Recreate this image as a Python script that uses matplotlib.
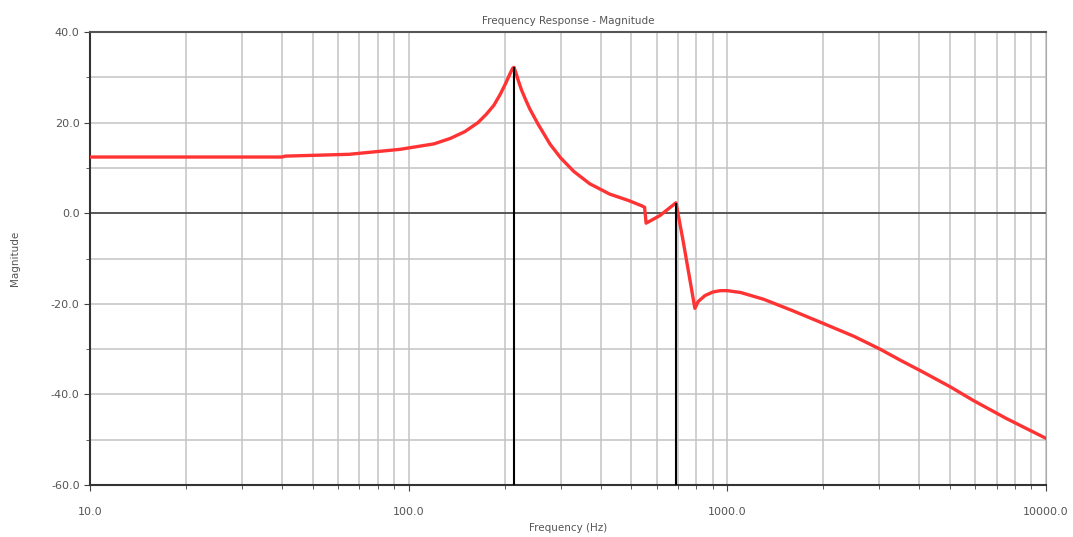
# Frequency response magnitude plot

import numpy as np
import matplotlib.pyplot as plt
from matplotlib.ticker import LogLocator, FixedLocator, NullFormatter

freq = [10, 20, 40, 41, 65, 94, 120, 135, 150, 165, 175, 185, 194, 202, 208, 212, 214,
        217, 221, 226, 233, 240, 255, 278, 300, 330, 370, 428, 490, 540, 550, 556, 615, 690,
        726, 760, 791, 810, 850, 900, 950, 1000, 1100, 1300, 1600, 1995, 2500, 3013, 3500,
        4020, 5000, 5900, 7500, 10000]
mag = [12.4, 12.4, 12.4, 12.6, 13.0, 14.1, 15.3, 16.5, 18.0, 20.0, 21.8, 23.8, 26.3, 28.8, 30.8, 32.0, 32.2,
       31.0, 29.2, 27.2, 25.0, 23.0, 19.6, 15.2, 12.2, 9.2, 6.5, 4.2, 2.8, 1.6, 1.3, -2.2, -0.5, 2.3,
       -6.0, -14.0, -21.0, -19.5, -18.2, -17.4, -17.1, -17.1, -17.5, -19.0, -21.5, -24.3, -27.2, -30.0, -32.5,
       -34.7, -38.3, -41.3, -45.3, -49.7]

marker_freq = [214, 690]
marker_mag = [32.2, 2.3]

xticks = [10, 100, 1000, 10000]
xlabels = ['10.0', '100.0', '1000.0', '10000.0']
yticks = [-60, -40, -20, 0, 20, 40]
ylabels = ['-60.0', '-40.0', '-20.0', '0.0', '20.0', '40.0']

txt = '#555555'
fig = plt.figure(figsize=(10.73, 5.37), dpi=100)
ax = fig.add_axes([90/1073, 1 - 485/537, 956/1073, 453/537])

ax.set_xscale('log')
ax.set_xlim(10, 10000)
ax.set_ylim(-60, 40)

# grid
ax.xaxis.set_minor_locator(LogLocator(base=10, subs=np.arange(2, 10)))
ax.xaxis.set_minor_formatter(NullFormatter())
ax.yaxis.set_minor_locator(FixedLocator([-50, -30, -10, 10, 30]))
ax.grid(True, which='both', color='#c4c4c4', lw=1.1)
ax.set_axisbelow(True)
ax.axhline(0, color='#444444', lw=1.2, zorder=1)

ax.plot(freq, mag, color='#ff3333', lw=2.4, zorder=3, solid_joinstyle='round')
ax.vlines(marker_freq, -60, marker_mag, color='black', lw=1.5, zorder=4)

ax.set_xticks(xticks)
ax.set_xticklabels(xlabels)
ax.set_yticks(yticks)
ax.set_yticklabels(ylabels)
ax.tick_params(which='both', direction='out', color='#444444', labelsize=8, labelcolor=txt)
ax.tick_params(which='major', length=4)
ax.tick_params(which='minor', length=3)
ax.tick_params(axis='x', pad=12)

for side in ['left', 'bottom']:
    ax.spines[side].set_color('#333333')
    ax.spines[side].set_linewidth(1.5)
ax.spines['top'].set_color('#555555')
ax.spines['top'].set_linewidth(1.5)
ax.spines['right'].set_color('#aaaaaa')

ax.set_title('Frequency Response - Magnitude', fontsize=7.5, color=txt, pad=6)
ax.set_xlabel('Frequency (Hz)', fontsize=7.5, color=txt, labelpad=4)
ax.set_ylabel('Magnitude', fontsize=7.5, color=txt, labelpad=22)

fig.savefig('out.png', dpi=100)
